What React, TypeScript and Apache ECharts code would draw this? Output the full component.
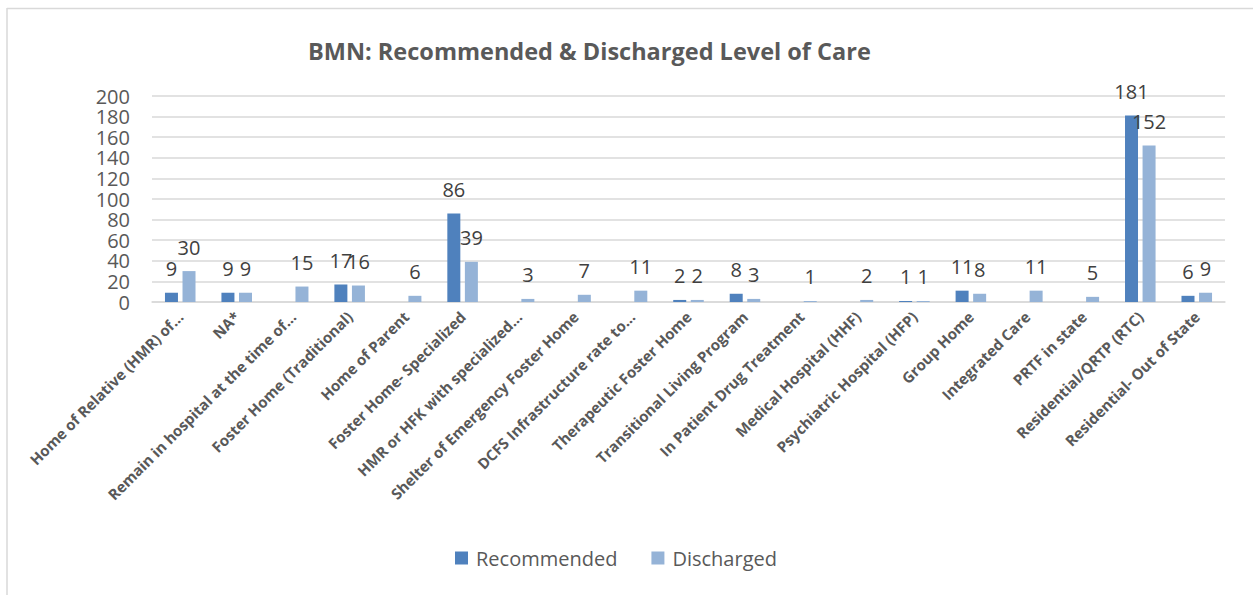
import React, { useEffect, useRef } from "react";
import * as echarts from "echarts";

const categories = [
  "Home of Relative (HMR) of…",
  "NA*",
  "Remain in hospital at the time of…",
  "Foster Home (Traditional)",
  "Home of Parent",
  "Foster Home- Specialized",
  "HMR or HFK with specialized…",
  "Shelter of Emergency Foster Home",
  "DCFS Infrastructure rate to…",
  "Therapeutic Foster Home",
  "Transitional Living Program",
  "In Patient Drug Treatment",
  "Medical Hospital (HHF)",
  "Psychiatric Hospital (HFP)",
  "Group Home",
  "Integrated Care",
  "PRTF in state",
  "Residential/QRTP (RTC)",
  "Residential- Out of State",
];

const recommended: (number | null)[] = [9, 9, null, 17, null, 86, null, null, null, 2, 8, null, null, 1, 11, null, null, 181, 6];
const discharged: (number | null)[] = [30, 9, 15, 16, 6, 39, 3, 7, 11, 2, 3, 1, 2, 1, 8, 11, 5, 152, 9];

const yTicks = { min: 0, max: 200, interval: 20 };

const TITLE = "BMN: Recommended & Discharged Level of Care";

export default function App() {
  const ref = useRef<HTMLDivElement>(null);
  useEffect(() => {
    if (!ref.current) return;
    const chart = echarts.init(ref.current, null, { renderer: "svg" });
    const labelStyle = {
      show: true,
      position: "top" as const,
      distance: 14,
      fontSize: 20,
      color: "#404040",
      fontFamily: "Open Sans",
    };
    chart.setOption({
      animation: false,
      backgroundColor: "#ffffff",
      title: {
        text: TITLE,
        left: 303,
        top: 34,
        textStyle: { fontSize: 23.5, fontWeight: "bold", color: "#595959", fontFamily: "Open Sans" },
      },
      graphic: [
        { type: "line", shape: { x1: 7, y1: 8.5, x2: 1253, y2: 8.5 }, style: { stroke: "#d9d9d9", lineWidth: 1.5 } },
        { type: "line", shape: { x1: 7, y1: 8, x2: 7, y2: 595 }, style: { stroke: "#d9d9d9", lineWidth: 1.5 } },
      ],
      legend: {
        bottom: 22,
        left: 450,
        itemWidth: 13,
        itemHeight: 13,
        itemGap: 34,
        icon: "rect",
        textStyle: { fontSize: 20, color: "#595959", fontFamily: "Open Sans", padding: [0, 0, 0, 3] },
        data: ["Recommended", "Discharged"],
      },
      grid: { left: 152, right: 28, top: 96, bottom: 293, containLabel: false },
      xAxis: {
        type: "category",
        data: categories,
        axisTick: { show: false },
        axisLine: { lineStyle: { color: "#d9d9d9", width: 1.5 } },
        axisLabel: {
          rotate: 45,
          interval: 0,
          fontSize: 15,
          fontWeight: "bold",
          color: "#595959",
          fontFamily: "Open Sans",
          margin: 12,
        },
      },
      yAxis: {
        type: "value",
        min: yTicks.min,
        max: yTicks.max,
        interval: yTicks.interval,
        axisLine: { show: false },
        axisTick: { show: false },
        splitLine: { lineStyle: { color: "#d9d9d9", width: 1.5 } },
        axisLabel: { fontSize: 20, color: "#595959", fontFamily: "Open Sans", margin: 22 },
      },
      series: [
        {
          name: "Recommended",
          type: "bar",
          data: recommended,
          barWidth: 13,
          barGap: "35%",
          itemStyle: { color: "#4f81bd" },
          label: labelStyle,
        },
        {
          name: "Discharged",
          type: "bar",
          data: discharged,
          barWidth: 13,
          itemStyle: { color: "#95b3d7" },
          label: labelStyle,
        },
      ],
    });
    return () => chart.dispose();
  }, []);
  return (
    <div
      ref={ref}
      style={{ position: "fixed", left: 0, top: 0, width: 1253, height: 595, background: "#fff" }}
    />
  );
}
